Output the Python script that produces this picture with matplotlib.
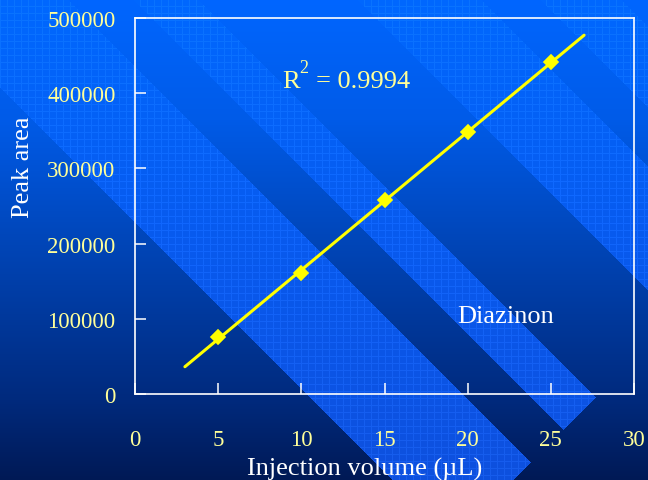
import numpy as np
import matplotlib
matplotlib.use("Agg")
import matplotlib.pyplot as plt

plt.rcParams['font.family'] = ['Liberation Serif', 'DejaVu Serif']

# ---- data ----
volume = [5, 10, 15, 20, 25]
peak_area = [75500, 160500, 258500, 348000, 441000]
x_ticks = [0, 5, 10, 15, 20, 25, 30]
y_ticks = [0, 100000, 200000, 300000, 400000, 500000]
fit_range = [3, 27]
r2_label = "R"
r2_sup = "2"
r2_value = "= 0.9994"
compound = "Diazinon"

W, H = 648, 481
fig = plt.figure(figsize=(W / 100, H / 100), dpi=100)

# ---- decorative background (gradient with diagonal textured bands) ----
yy, xx = np.mgrid[0:H, 0:W].astype(float)

def grad(y, ys, cols):
    cols = np.array(cols, dtype=float)
    return np.stack([np.interp(y, ys, cols[:, i]) for i in range(3)], axis=-1)

base = grad(yy, [0, 120, 240, 400, 481],
            [(0, 102, 255), (0, 91, 232), (0, 70, 185), (0, 42, 125), (0, 25, 85)])
band = grad(yy, [0, 240, 481], [(0, 104, 255), (8, 90, 238), (14, 80, 222)])
v = xx - yy
u = xx + yy
mask = np.zeros((H, W), bool)
for lo, hi in [(-88, 67), (133, 197), (357, 480), (540, 620)]:
    mask |= (v >= lo) & (v <= hi)
mask &= (u <= 993)
gridl = ((xx.astype(int) % 7) == 0) | ((yy.astype(int) % 7) == 0)
band = band + gridl[..., None] * np.array([9, 12, 14])
img = np.where(mask[..., None], band, base)
img = np.clip(img, 0, 255) / 255.0
fig.figimage(img, xo=0, yo=0, origin='upper', zorder=-10)

# ---- main axes ----
left, right, top, bottom = 135, 634, 19, 395
ax = fig.add_axes([left / W, 1 - bottom / H, (right - left) / W, (bottom - top) / H])
ax.set_zorder(5)
ax.set_facecolor('none')
ax.set_xlim(0, 30)
ax.set_ylim(0, 500000)
ax.set_xticks(x_ticks)
ax.set_yticks(y_ticks)
ax.set_xticklabels([str(t) for t in x_ticks])
ax.set_yticklabels([str(t) for t in y_ticks])
for s in ax.spines.values():
    s.set_color('white')
    s.set_linewidth(1.2)
ax.tick_params(direction='in', length=8, width=1.1, colors='white',
               labelcolor='#FFFF99', labelsize=16.5, top=False, right=False)
ax.tick_params(axis='y', pad=14)
ax.tick_params(axis='x', pad=25)

slope, intercept = np.polyfit(volume, peak_area, 1)
xf = np.array(fit_range, dtype=float)
ax.plot(xf, slope * xf + intercept, color='#FFFF00', lw=2.2, zorder=3,
        solid_capstyle='round')
ax.plot(volume, peak_area, linestyle='none', marker='D', markersize=7,
        markeredgewidth=1.2, color='#FFFF00', markeredgecolor='#FFFF00', zorder=4)

# ---- texts ----
fig.text(23 / W, 1 - 167 / H, 'Peak area', rotation=90, ha='center', va='center',
         color='white', fontsize=19, zorder=6)
fig.text(365 / W, 1 - 476 / H, 'Injection volume (µL)', ha='center', va='baseline',
         color='white', fontsize=19, zorder=6)
fig.text(282 / W, 1 - 88 / H, r2_label, ha='left', va='baseline',
         color='#FFFF99', fontsize=19, zorder=6)
fig.text(299 / W, 1 - 73 / H, r2_sup, ha='left', va='baseline',
         color='#FFFF99', fontsize=13, zorder=6)
fig.text(316 / W, 1 - 88 / H, r2_value, ha='left', va='baseline',
         color='#FFFF99', fontsize=19, zorder=6)
fig.text(457 / W, 1 - 323 / H, compound, ha='left', va='baseline',
         color='white', fontsize=19, zorder=6)

fig.savefig('out.png', dpi=100)
